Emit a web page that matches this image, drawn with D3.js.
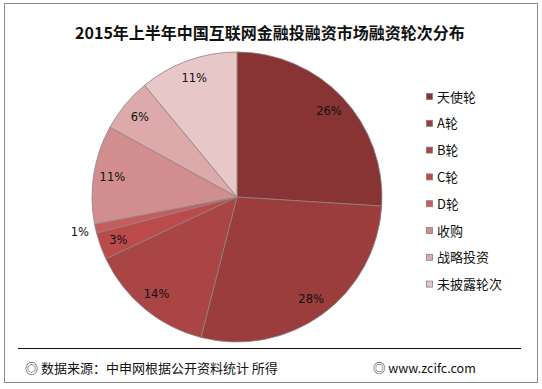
<!DOCTYPE html>
<html>
<head>
<meta charset="utf-8">
<script src="https://cdn.jsdelivr.net/npm/d3@7"></script>
<style>
  body { margin: 0; background: #fff; }
  svg { display: block; font-family: "Noto Sans CJK SC", "DejaVu Sans", sans-serif; }
</style>
</head>
<body>
<svg id="chart" width="542" height="389"></svg>
<script>
// Data
const categories = ["天使轮", "A轮", "B轮", "C轮", "D轮", "收购", "战略投资", "未披露轮次"];
const shares = [26, 28, 14, 3, 1, 11, 6, 11];
const colours = ["#883434", "#9b3d3d", "#a94545", "#bb4b4b", "#c65d5d", "#d28e8e", "#dcaaaa", "#e7c7c7"];

const title = "2015年上半年中国互联网金融投融资市场融资轮次分布";
const sourceNote = "◎ 数据来源：中申网根据公开资料统计 所得";
const siteNote = "◎ www.zcifc.com";

const svg = d3.select("#chart");

// Outer frame
svg.append("rect")
  .attr("x", 4.5).attr("y", 3.5)
  .attr("width", 533).attr("height", 379)
  .attr("fill", "#fff")
  .attr("stroke", "#8c8c8c");

// Title
svg.append("text")
  .attr("x", 270).attr("y", 39)
  .attr("text-anchor", "middle")
  .attr("font-size", 16)
  .attr("font-weight", "bold")
  .attr("fill", "#111")
  .text(title);

// Pie
const cx = 237, cy = 197, radius = 145;
const g = svg.append("g").attr("transform", `translate(${cx},${cy})`);

const data = categories.map((name, i) => ({ name, value: shares[i], colour: colours[i] }));
const pie = d3.pie().value((d) => d.value).sort(null);
const arcs = pie(data);
const arc = d3.arc().innerRadius(0).outerRadius(radius);

g.selectAll("path")
  .data(arcs)
  .enter()
  .append("path")
  .attr("d", arc)
  .attr("fill", (d) => d.data.colour)
  .attr("stroke", "#8f8282")
  .attr("stroke-width", 0.8);

// Labels: inside at ~0.87R, the tiny D slice sits outside
const labelArc = d3.arc().innerRadius(radius * 0.87).outerRadius(radius * 0.87);
const outsideArc = d3.arc().innerRadius(161).outerRadius(161);

g.selectAll("text.pct")
  .data(arcs)
  .enter()
  .append("text")
  .attr("class", "pct")
  .attr("transform", (d) => {
    const a = d.data.value < 2 ? outsideArc : labelArc;
    return `translate(${a.centroid(d)})`;
  })
  .attr("text-anchor", "middle")
  .attr("dy", "0.35em")
  .attr("font-size", 11.5)
  .attr("font-family", "'DejaVu Sans', sans-serif")
  .attr("fill", "#111")
  .text((d) => d.data.value + "%");

// Legend
const legend = svg.append("g")
  .selectAll("g")
  .data(data)
  .enter()
  .append("g")
  .attr("transform", (d, i) => `translate(426,${97 + i * 26.8})`);

legend.append("rect")
  .attr("x", 0.5).attr("y", -3.5)
  .attr("width", 6).attr("height", 6)
  .attr("fill", (d) => d.colour)
  .attr("stroke", "#8a7a7a")
  .attr("stroke-width", 0.8);

legend.append("text")
  .attr("x", 11).attr("y", 0)
  .attr("dy", "0.36em")
  .attr("font-size", 13)
  .attr("fill", "#111")
  .text((d) => d.name);

// Footer
svg.append("line")
  .attr("x1", 18).attr("x2", 521)
  .attr("y1", 348.5).attr("y2", 348.5)
  .attr("stroke", "#111")
  .attr("stroke-width", 1);

svg.append("text")
  .attr("x", 25).attr("y", 373)
  .attr("font-size", 13)
  .attr("fill", "#111")
  .text(sourceNote);

svg.append("text")
  .attr("x", 373).attr("y", 373)
  .attr("font-size", 12.5)
  .attr("fill", "#111")
  .text(siteNote);
</script>
</body>
</html>
